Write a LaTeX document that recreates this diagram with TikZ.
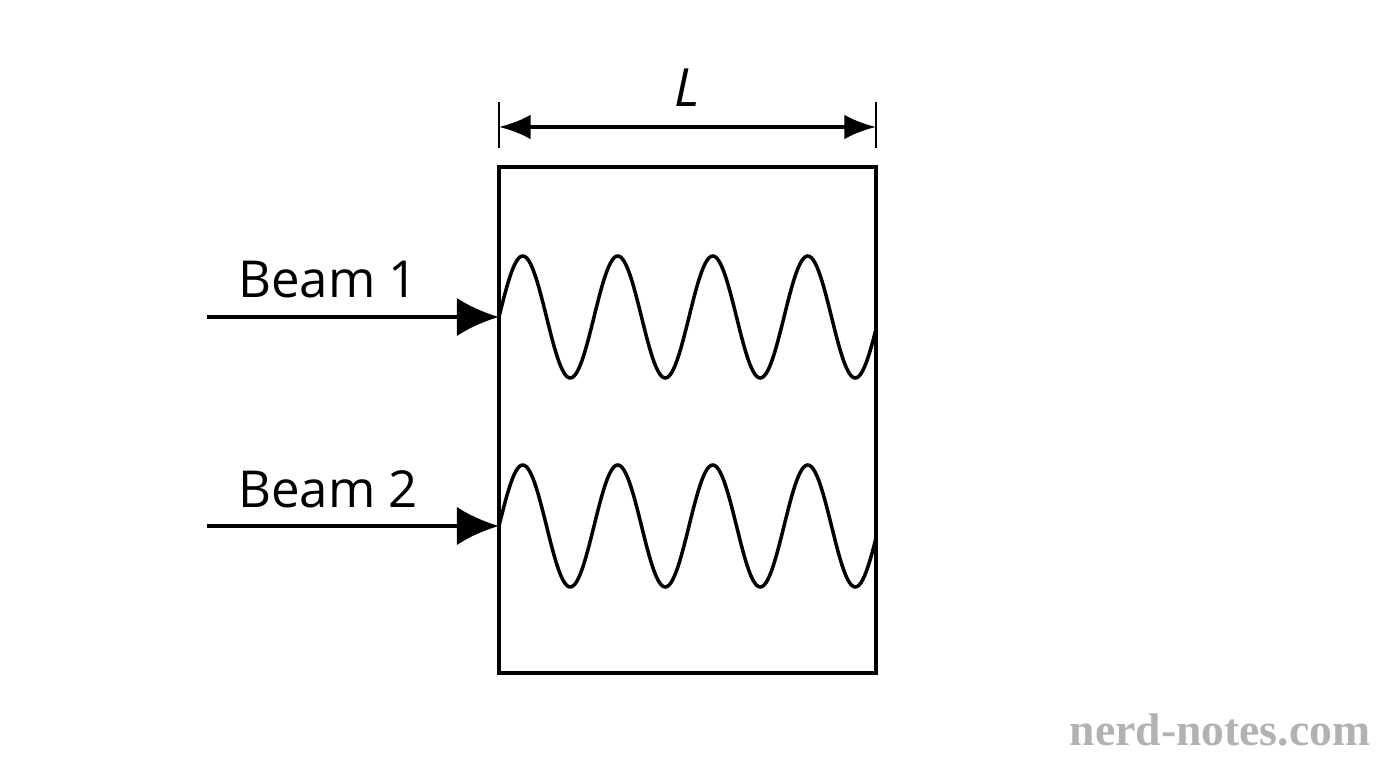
\documentclass[tikz,border=0pt]{standalone}
\usepackage{fontspec}
\setmainfont{Open Sans}
\newfontfamily\markfont{Liberation Serif}
\usetikzlibrary{arrows.meta,positioning}

\begin{document}
\begin{tikzpicture}[
    beam/.style={line width=1.3pt,-{Latex[length=12pt,width=11pt]}},
    wave/.style={line width=1pt},
    lbl/.style={font=\fontsize{14.5}{16}\selectfont}
  ]
  \useasboundingbox (0,0) rectangle (13.76,7.68);
  % cell
  \draw[line width=1pt] (4.99,0.95) rectangle (8.76,6.01);
  % length L
  \draw[line width=0.8pt] (4.99,6.20) -- (4.99,6.66);
  \draw[line width=0.8pt] (8.76,6.20) -- (8.76,6.66);
  \coordinate (lA) at (4.99,6.41);
  \coordinate (lB) at (8.76,6.41);
  \draw[line width=1pt,{Latex[length=9pt,width=7pt]}-{Latex[length=9pt,width=7pt]}] (lA) -- (lB);
  \node[lbl,font=\fontsize{15}{16}\selectfont\itshape] (len) at (6.875,6.80) {L};
  % beams
  \foreach \y/\n in {4.51/1,2.42/2}{
    \coordinate (s\n) at (2.07,\y);
    \coordinate (e\n) at (4.99,\y);
    \draw[beam] (s\n) -- (e\n);
    \node[lbl] (b\n) at (3.28,\y+0.37) {Beam \n};
    \draw[wave] plot[domain=0:3.77,samples=200] ({\x+4.99},{\y+0.61*sin(\x/0.95*360)});
  }
  \node[text=black!30,font=\markfont\fontsize{13}{14}\selectfont\bfseries] (mark) at (12.2,0.38) {nerd-notes.com};
\end{tikzpicture}
\end{document}
